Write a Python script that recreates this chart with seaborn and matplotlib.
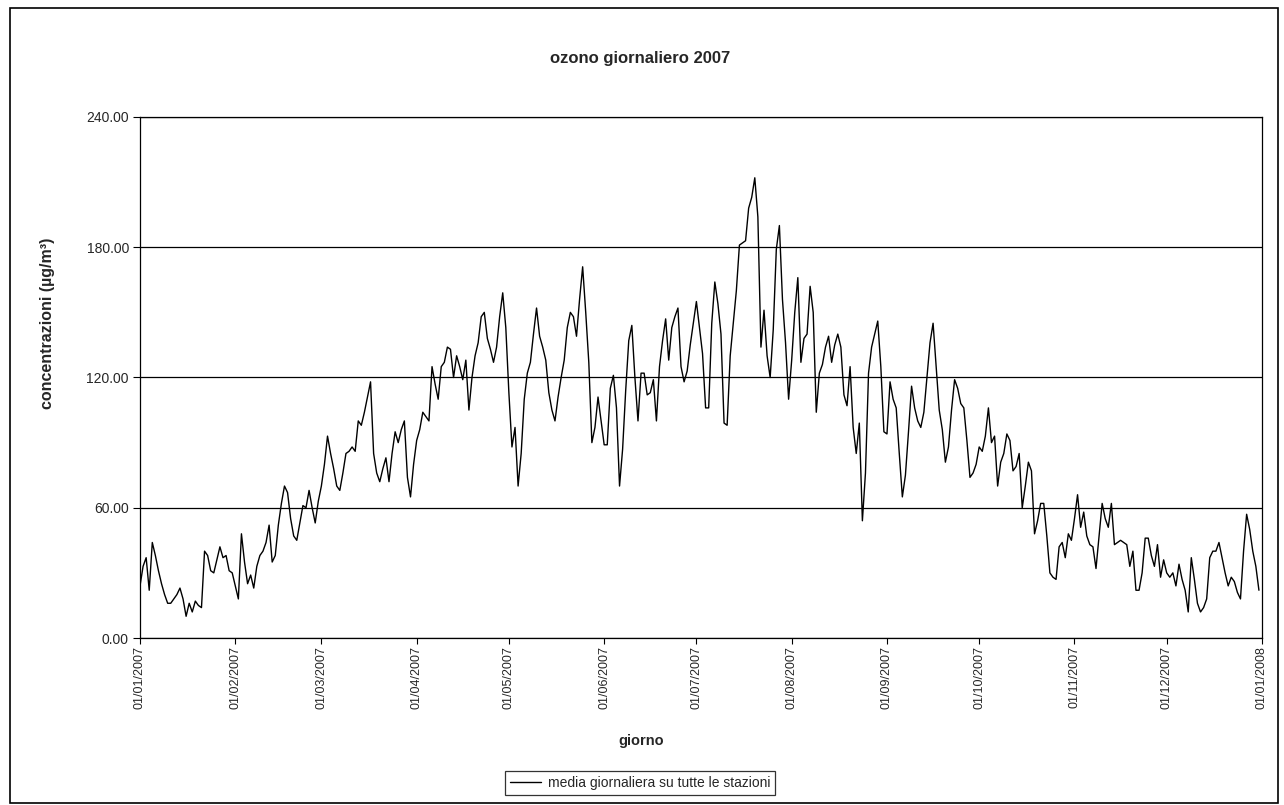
import numpy as np
import pandas as pd
import matplotlib
matplotlib.use("Agg")
import matplotlib.pyplot as plt
import matplotlib.dates as mdates
from matplotlib.patches import Rectangle
from matplotlib.lines import Line2D
from matplotlib.ticker import FixedLocator, FormatStrFormatter
import seaborn as sns

# Daily mean ozone over all stations, 2007 (µg/m³), one list per month
jan = [24, 33, 37, 22, 44, 38, 31, 25, 20, 16, 16, 18, 20, 23, 18, 10, 16, 12, 17, 15,
       14, 40, 38, 31, 30, 36, 42, 37, 38, 31, 30]
feb = [24, 18, 48, 35, 25, 29, 23, 33, 38, 40, 44, 52, 35, 38, 52, 62, 70, 67, 55, 47,
       45, 53, 61, 60, 68, 60, 53, 63]
mar = [70, 80, 93, 85, 78, 70, 68, 76, 85, 86, 88, 86, 100, 98, 104, 111, 118, 85, 76, 72,
       78, 83, 72, 85, 95, 90, 96, 100, 74, 65, 80]
apr = [91, 96, 104, 102, 100, 125, 117, 110, 125, 127, 134, 133, 120, 130, 125, 119, 128, 105, 120, 130,
       136, 148, 150, 138, 133, 127, 134, 148, 159, 143]
may = [113, 88, 97, 70, 85, 110, 122, 127, 140, 152, 139, 134, 128, 113, 105, 100, 111, 120, 128, 143,
       150, 148, 139, 156, 171, 150, 127, 90, 97, 111, 100]
jun = [89, 89, 115, 121, 106, 70, 87, 114, 137, 144, 120, 100, 122, 122, 112, 113, 119, 100, 125, 137,
       147, 128, 143, 148, 152, 125, 118, 123, 135, 145]
jul = [155, 143, 131, 106, 106, 145, 164, 154, 140, 99, 98, 130, 145, 160, 181, 182, 183, 198, 203, 212,
       194, 134, 151, 130, 120, 142, 179, 190, 156, 136, 110]
aug = [128, 150, 166, 127, 138, 140, 162, 150, 104, 122, 126, 134, 139, 127, 135, 140, 134, 112, 107, 125,
       97, 85, 99, 54, 76, 122, 134, 140, 146, 125, 95]
sep = [94, 118, 110, 106, 85, 65, 75, 95, 116, 106, 100, 97, 104, 120, 136, 145, 125, 105, 96, 81,
       88, 105, 119, 115, 108, 106, 91, 74, 76, 80]
oct_ = [88, 86, 93, 106, 90, 93, 70, 81, 85, 94, 91, 77, 79, 85, 60, 70, 81, 77, 48, 54,
        62, 62, 47, 30, 28, 27, 42, 44, 37, 48, 45]
nov = [55, 66, 51, 58, 47, 43, 42, 32, 47, 62, 55, 51, 62, 43, 44, 45, 44, 43, 33, 40,
       22, 22, 30, 46, 46, 38, 33, 43, 28, 36]
dec = [30, 28, 30, 24, 34, 27, 22, 12, 37, 27, 16, 12, 14, 18, 37, 40, 40, 44, 37, 30,
       24, 28, 26, 21, 18, 40, 57, 50, 40, 33, 22]

y_ticks = [0, 60, 120, 180, 240]
title = "ozono giornaliero 2007"
y_label = "concentrazioni (µg/m³)"
x_label = "giorno"
series_name = "media giornaliera su tutte le stazioni"

values = jan + feb + mar + apr + may + jun + jul + aug + sep + oct_ + nov + dec
dates = pd.date_range("2007-01-01", periods=len(values), freq="D")
df = pd.DataFrame({"giorno": dates, "ozono": values})

sns.set_theme(style="white")
plt.rcParams["font.family"] = ["Liberation Sans", "DejaVu Sans"]

W, H = 1284, 805
fig = plt.figure(figsize=(W / 100, H / 100), dpi=100)
fig.patch.set_facecolor("white")

ax = fig.add_axes([140 / W, 1 - 638 / H, (1262 - 140) / W, (638 - 117) / H])
ax.set_facecolor("white")

sns.lineplot(data=df, x="giorno", y="ozono", ax=ax, color="black", linewidth=1.0,
             legend=False)

# axes, ticks and grid
ax.set_ylim(0, 240)
ax.yaxis.set_major_locator(FixedLocator(y_ticks))
ax.yaxis.set_major_formatter(FormatStrFormatter("%.2f"))
ax.set_xlim(pd.Timestamp("2007-01-01"), pd.Timestamp("2008-01-01"))
ax.xaxis.set_major_locator(mdates.MonthLocator(bymonthday=1))
ax.xaxis.set_major_formatter(mdates.DateFormatter("%d/%m/%Y"))
ax.grid(axis="y", color="black", linewidth=0.9)
ax.grid(axis="x", visible=False)
ax.set_axisbelow(True)

for s in ax.spines.values():
    s.set_color("black")
    s.set_linewidth(0.9)

ax.tick_params(axis="y", which="major", direction="out", length=5, width=0.8,
               color="black", labelsize=10, pad=3, left=True)
ax.tick_params(axis="x", which="major", direction="out", length=4, width=0.8,
               color="black", labelsize=9, pad=2, bottom=True, labelrotation=90)
for lbl in ax.get_xticklabels():
    lbl.set_ha("center")

ax.set_xlabel("")
ax.set_ylabel("")
fig.text(641 / W, 1 - 741 / H, x_label, ha="center", va="center", fontsize=10.5,
         fontweight="bold")
fig.text(48 / W, 1 - 323 / H, y_label, ha="center", va="center", fontsize=11.5,
         fontweight="bold", rotation=90)
fig.text(640 / W, 1 - 58 / H, title, ha="center", va="center", fontsize=12,
         fontweight="bold")

# legend box below the chart
handle = Line2D([0], [0], color="black", linewidth=1.0)
leg = fig.legend([handle], [series_name], loc="center",
                 bbox_to_anchor=(640 / W, 1 - 783 / H), frameon=True,
                 fancybox=False, edgecolor="black", fontsize=10,
                 handlelength=2.2, handletextpad=0.5, borderpad=0.35)
leg.get_frame().set_linewidth(0.9)

# outer chart border
fig.patches.append(Rectangle((10 / W, 2 / H), (1278 - 10) / W, (797 - 2) / H,
                             transform=fig.transFigure, fill=False,
                             edgecolor="black", linewidth=1.2))

fig.savefig("out.png", dpi=100, facecolor="white")
